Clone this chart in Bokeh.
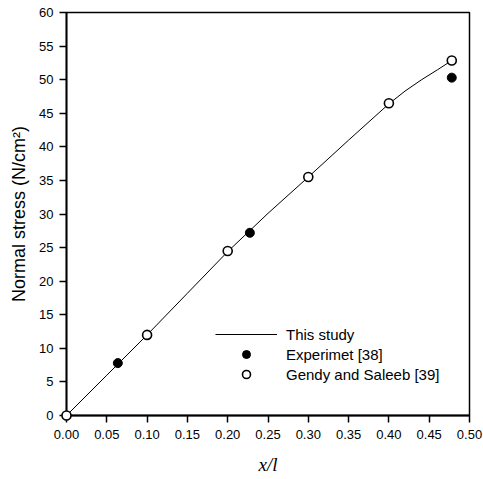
from bokeh.plotting import figure
from bokeh.models import Range1d, FixedTicker, Legend, LegendItem
from bokeh.embed import file_html
from bokeh.resources import INLINE

# ---- data ----
study_x = [0.0, 0.05, 0.10, 0.15, 0.20, 0.25, 0.30, 0.35, 0.40, 0.42, 0.44, 0.46, 0.478]
study_y = [0.0, 6.0, 12.0, 18.2, 24.4, 30.1, 35.5, 41.0, 46.4, 48.3, 49.95, 51.45, 52.85]

exp_x = [0.0637, 0.2275, 0.478]
exp_y = [7.8, 27.2, 50.3]

gs_x = [0.0, 0.10, 0.20, 0.30, 0.40, 0.478]
gs_y = [0.0, 12.0, 24.5, 35.5, 46.5, 52.85]

x_ticks = [0.0, 0.05, 0.10, 0.15, 0.20, 0.25, 0.30, 0.35, 0.40, 0.45, 0.50]
x_tick_labels = ["0.00", "0.05", "0.10", "0.15", "0.20", "0.25", "0.30",
                 "0.35", "0.40", "0.45", "0.50"]
y_ticks = [0, 5, 10, 15, 20, 25, 30, 35, 40, 45, 50, 55, 60]

legend_labels = ["This study", "Experimet [38]", "Gendy and Saleeb [39]"]

FONT = "Liberation Sans"

p = figure(width=483, height=479, output_backend="svg", toolbar_location=None,
           x_range=Range1d(0, 0.5), y_range=Range1d(0, 60),
           min_border_left=66, min_border_right=14, min_border_top=12,
           min_border_bottom=64)

p.xgrid.visible = False
p.ygrid.visible = False
p.outline_line_color = "black"
p.outline_line_width = 1.5
p.background_fill_color = "white"
p.border_fill_color = "white"

r_line = p.line(study_x, study_y, line_color="black", line_width=1)
r_exp = p.scatter(exp_x, exp_y, marker="circle", size=9, fill_color="black",
                  line_color="black", line_width=1)
r_gs = p.scatter(gs_x, gs_y, marker="circle", size=9, fill_color="white",
                 line_color="black", line_width=1.6)
r_gs.level = "overlay"

for ax in (p.xaxis[0], p.yaxis[0]):
    ax.axis_line_width = 1.8
    ax.major_tick_line_width = 1.5
    ax.major_tick_out = 7
    ax.major_tick_in = 0
    ax.minor_tick_out = 0
    ax.minor_tick_in = 0
    ax.major_label_text_font = FONT
    ax.major_label_text_font_size = "13px"
    ax.major_label_text_color = "black"
    ax.axis_label_text_color = "black"

p.xaxis.ticker = FixedTicker(ticks=x_ticks)
p.xaxis.major_label_overrides = {t: l for t, l in zip(x_ticks, x_tick_labels)}
p.xaxis.major_label_standoff = 7
p.xaxis.axis_label = "x/l"
p.xaxis.axis_label_text_font = "Liberation Serif"
p.xaxis.axis_label_text_font_style = "italic"
p.xaxis.axis_label_text_font_size = "19px"
p.xaxis.axis_label_standoff = 12

p.yaxis.ticker = FixedTicker(ticks=y_ticks)
p.yaxis.major_label_standoff = 6
p.yaxis.axis_label = "Normal stress (N/cm\u00b2)"
p.yaxis.axis_label_text_font = FONT
p.yaxis.axis_label_text_font_style = "normal"
p.yaxis.axis_label_text_font_size = "18px"
p.yaxis.axis_label_standoff = 7

legend = Legend(items=[LegendItem(label=legend_labels[0], renderers=[r_line]),
                       LegendItem(label=legend_labels[1], renderers=[r_exp]),
                       LegendItem(label=legend_labels[2], renderers=[r_gs])],
                location=(149, 31), glyph_width=62, glyph_height=20,
                label_height=20, label_standoff=9, spacing=0, padding=0,
                margin=0, border_line_color=None, background_fill_alpha=0,
                label_text_font=FONT, label_text_font_size="15px",
                label_text_color="black")
p.add_layout(legend, "center")

open("out.html", "w").write(file_html(p, INLINE))
